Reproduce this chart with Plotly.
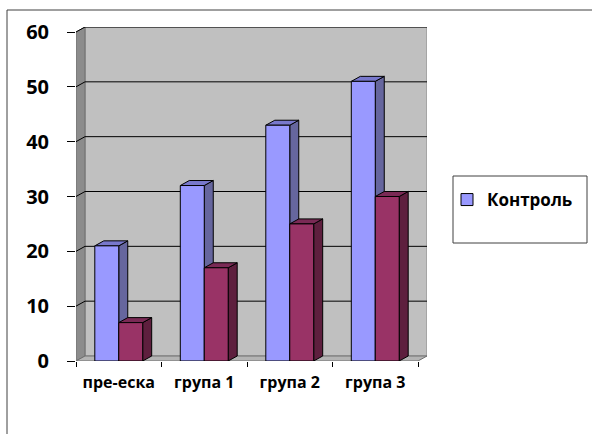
import plotly.graph_objects as go

# ---- data ----
categories = ["пре-еска", "група 1", "група 2", "група 3"]
control = [21, 32, 43, 51]
second = [7, 17, 25, 30]
series_names = ["Контроль", ""]
y_ticks = [0, 10, 20, 30, 40, 50, 60]

# ---- geometry (pixels) ----
W, H = 592, 434
L = 76            # front plane left
FRONT_W = 342     # front plane width (4 categories)
FRONT_H = 329     # front plane height (0..60)
BOTTOM = 361      # front plane bottom pixel
DXP, DYP = 9, 5   # 3D depth in pixels
PLOT_W = FRONT_W + DXP
PLOT_H = FRONT_H + DYP
TOP = BOTTOM - PLOT_H
YMAX = 60
ncat = len(categories)
px_per_cat = FRONT_W / ncat
px_per_unit = FRONT_H / YMAX
DX = DXP / px_per_cat
DY = DYP / px_per_unit

def pxx(x):
    return (x - L) / PLOT_W

def pxy(y):
    return (BOTTOM - y) / PLOT_H

BARGAP = 0.44
bw = (1 - BARGAP) / 2

front_cols = ["#9999FF", "#993366"]
side_cols = ["#66669E", "#5E1F3E"]
top_cols = ["#7878CC", "#7A2A55"]

fig = go.Figure()
for i, (vals, name) in enumerate(zip([control, second], series_names)):
    fig.add_trace(go.Bar(
        x=categories, y=vals, name=name,
        marker=dict(color=front_cols[i], line=dict(color="#000000", width=1)),
        showlegend=(i == 0),
    ))

shapes = []
xl, xr = -0.5, ncat - 0.5
# back wall
shapes.append(dict(type="rect", xref="x", yref="y", layer="below",
                   x0=xl + DX, x1=xr + DX, y0=DY, y1=YMAX + DY,
                   fillcolor="#C0C0C0", line=dict(color="#8A8A8A", width=1)))
# left wall
shapes.append(dict(type="path", xref="x", yref="y", layer="below",
                   path=f"M{xl},0 L{xl+DX},{DY} L{xl+DX},{YMAX+DY} L{xl},{YMAX} Z",
                   fillcolor="#8C8C8C", line=dict(color="#6E6E6E", width=1)))
# floor
shapes.append(dict(type="path", xref="x", yref="y", layer="below",
                   path=f"M{xl},0 L{xr},0 L{xr+DX},{DY} L{xl+DX},{DY} Z",
                   fillcolor="#B4B4B4", line=dict(color="#707070", width=1)))
# gridlines on back wall + diagonals on left wall
for v in y_ticks[1:]:
    shapes.append(dict(type="line", xref="x", yref="y", layer="below",
                       x0=xl + DX, x1=xr + DX, y0=v + DY, y1=v + DY,
                       line=dict(color="#000000", width=1)))
    shapes.append(dict(type="line", xref="x", yref="y", layer="below",
                       x0=xl, x1=xl + DX, y0=v, y1=v + DY,
                       line=dict(color="#000000", width=1)))
# 3D faces of bars
for i, vals in enumerate([control, second]):
    for c, v in enumerate(vals):
        x0 = c - (1 - BARGAP) / 2 + i * bw
        x1 = x0 + bw
        shapes.append(dict(type="path", xref="x", yref="y", layer="below",
                           path=f"M{x1},0 L{x1+DX},{DY} L{x1+DX},{v+DY} L{x1},{v} Z",
                           fillcolor=side_cols[i], line=dict(color="#000000", width=1)))
        shapes.append(dict(type="path", xref="x", yref="y", layer="below",
                           path=f"M{x0},{v} L{x0+DX},{v+DY} L{x1+DX},{v+DY} L{x1},{v} Z",
                           fillcolor=top_cols[i], line=dict(color="#000000", width=1)))
# chart area border
shapes.append(dict(type="rect", xref="paper", yref="paper", layer="above",
                   x0=pxx(7), x1=pxx(W + 10), y0=pxy(H + 10), y1=pxy(10),
                   line=dict(color="#404040", width=1)))
# legend box
shapes.append(dict(type="rect", xref="paper", yref="paper", layer="above",
                   x0=pxx(453), x1=pxx(587), y0=pxy(243), y1=pxy(176),
                   line=dict(color="#404040", width=1)))

fig.update_layout(
    width=W, height=H,
    margin=dict(l=L, r=W - L - PLOT_W, t=TOP, b=H - BOTTOM, pad=0),
    paper_bgcolor="#FFFFFF", plot_bgcolor="rgba(0,0,0,0)",
    barmode="group", bargap=BARGAP, bargroupgap=0,
    shapes=shapes,
    font=dict(family="Open Sans", color="#000000"),
    showlegend=True,
    legend=dict(x=pxx(447), y=pxy(182), xanchor="left", yanchor="top",
                bgcolor="rgba(0,0,0,0)", borderwidth=0,
                font=dict(family="Open Sans", size=17, weight="bold", color="#000000")),
    xaxis=dict(type="category", range=[xl, xr + DX], tickson="boundaries",
               ticks="outside", ticklen=5, tickcolor="#000000", tickwidth=1,
               showgrid=False, showline=False, zeroline=False, tickangle=0,
               automargin=False,
               tickfont=dict(family="Open Sans", size=16, weight="bold", color="#000000"),
               ticklabelstandoff=10, fixedrange=True),
    yaxis=dict(range=[0, YMAX + DY], tickvals=y_ticks, automargin=False,
               ticks="outside", ticklen=8, tickcolor="#000000", tickwidth=1,
               showgrid=False, showline=False, zeroline=False,
               tickfont=dict(family="Open Sans", size=20, weight="bold", color="#000000"),
               ticklabelstandoff=14, fixedrange=True),
)

fig.write_html("out.html")
